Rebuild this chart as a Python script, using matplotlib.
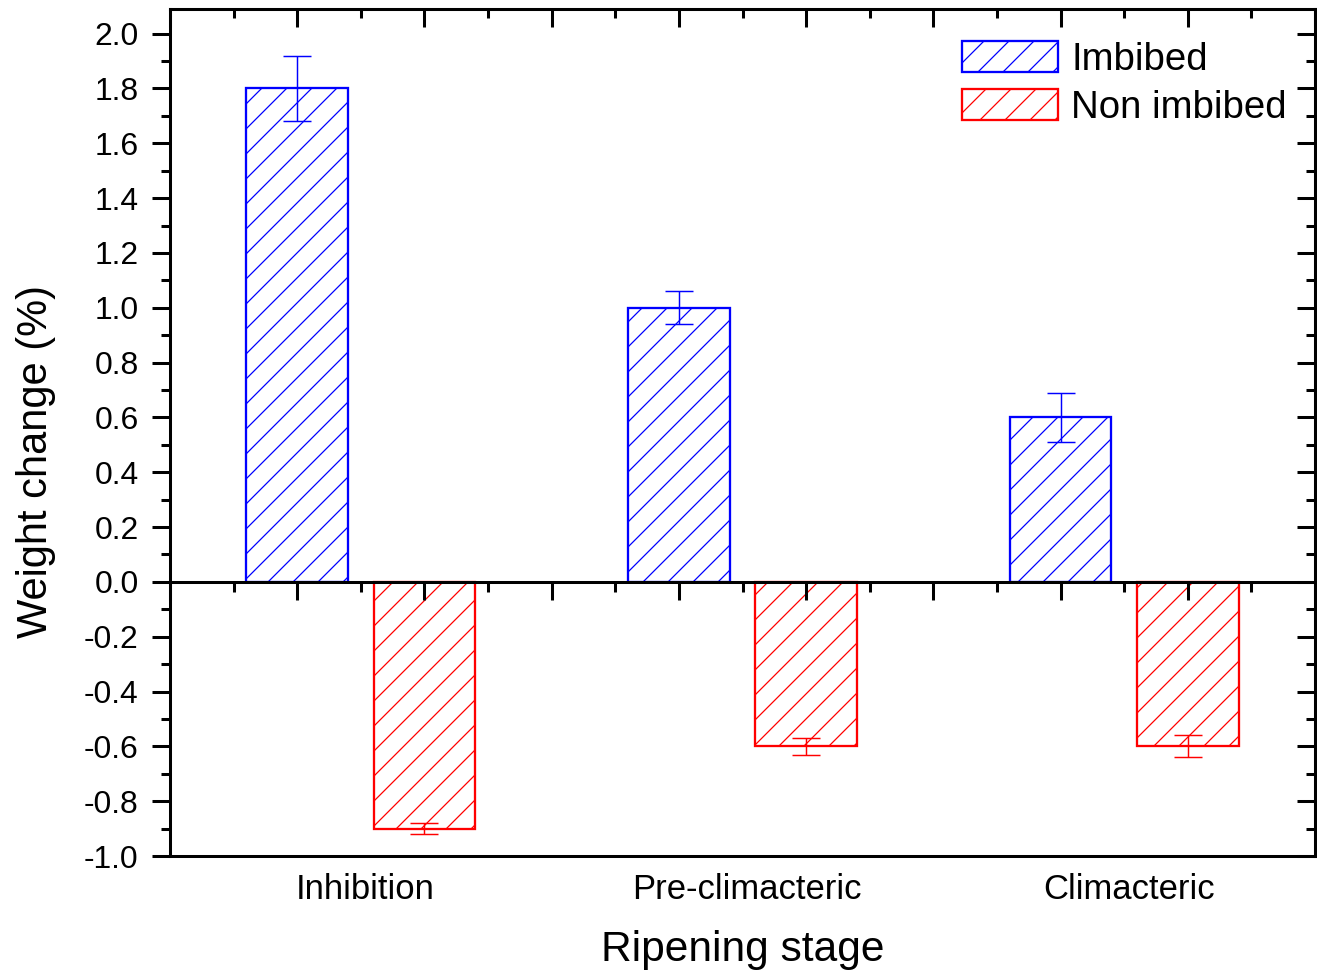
import numpy as np
import matplotlib
matplotlib.use('Agg')
import matplotlib.pyplot as plt
from matplotlib.ticker import MultipleLocator

plt.rcParams['font.family'] = ['Liberation Sans', 'DejaVu Sans']
plt.rcParams['hatch.linewidth'] = 0.6

# weight change per ripening stage (%)
stages = ['Inhibition', 'Pre-climacteric', 'Climacteric']
imbibed = [1.8, 1.0, 0.6]
imbibed_err = [0.12, 0.06, 0.09]
non_imbibed = [-0.9, -0.6, -0.6]
non_imbibed_err = [0.02, 0.03, 0.04]

centers = np.arange(len(stages)) * 3 + 1.5
x_imb = centers - 0.5
x_non = centers + 0.5
width = 0.8

fig = plt.figure(figsize=(1317 / 150, 973 / 150), dpi=150)
ax = fig.add_axes([170 / 1317, 1 - 856 / 973, 1145 / 1317, 847 / 973])

ax.bar(x_imb, imbibed, width, facecolor='none', edgecolor='blue', hatch='//',
       linewidth=1.1, label='Imbibed')
ax.bar(x_non, non_imbibed, width, facecolor='none', edgecolor='red', hatch='//',
       linewidth=1.1, label='Non imbibed')
ax.errorbar(x_imb, imbibed, yerr=imbibed_err, fmt='none', ecolor='blue',
            elinewidth=0.7, capsize=6.5, capthick=0.7)
ax.errorbar(x_non, non_imbibed, yerr=non_imbibed_err, fmt='none', ecolor='red',
            elinewidth=0.7, capsize=6.5, capthick=0.7)

ax.set_xlim(0, 9)
ax.set_ylim(-1.0, 2.09)

lw = 1.45
for s in ax.spines.values():
    s.set_linewidth(lw)
ax.spines['bottom'].set_position(('data', 0))

# x ticks on the zero line, pointing down
ax.xaxis.set_major_locator(MultipleLocator(1))
ax.xaxis.set_minor_locator(MultipleLocator(0.5))
ax.tick_params(axis='x', which='both', direction='out', labelbottom=False,
               top=False, width=lw)
ax.tick_params(axis='x', which='major', length=8.6)
ax.tick_params(axis='x', which='minor', length=5)

# y ticks on the left, outward
ax.yaxis.set_major_locator(MultipleLocator(0.2))
ax.yaxis.set_minor_locator(MultipleLocator(0.1))
ax.yaxis.set_major_formatter(matplotlib.ticker.FormatStrFormatter('%.1f'))
ax.tick_params(axis='y', which='both', direction='out', right=False, width=lw,
               labelsize=15.3, pad=6.5)
ax.tick_params(axis='y', which='major', length=8.6)
ax.tick_params(axis='y', which='minor', length=4.3)

# top ticks pointing in
top = ax.secondary_xaxis('top')
top.xaxis.set_major_locator(MultipleLocator(1))
top.xaxis.set_minor_locator(MultipleLocator(0.5))
top.tick_params(which='both', direction='in', labeltop=False, width=lw)
top.tick_params(which='major', length=8.6)
top.tick_params(which='minor', length=4.3)
top.spines['top'].set_linewidth(lw)

# right ticks pointing in
right = ax.secondary_yaxis('right')
right.yaxis.set_major_locator(MultipleLocator(0.2))
right.yaxis.set_minor_locator(MultipleLocator(0.1))
right.tick_params(which='both', direction='in', labelright=False, width=lw)
right.tick_params(which='major', length=8.6)
right.tick_params(which='minor', length=4.3)
right.spines['right'].set_linewidth(lw)

# bottom frame carries the stage names
bottom = ax.secondary_xaxis('bottom')
bottom.set_xticks(centers + 0.035, stages)
bottom.tick_params(length=0, pad=8, labelsize=16.6)
bottom.spines['bottom'].set_linewidth(lw)
bottom.set_xlabel('Ripening stage', fontsize=20.4, labelpad=11.8)

ax.set_ylabel('Weight change (%)', fontsize=20)
ax.yaxis.set_label_coords(-0.0995, 0.466)

ax.legend(loc='upper left', bbox_to_anchor=(0.692, 0.962), frameon=False,
          fontsize=18.4, handlelength=2.5, handleheight=0.86,
          handletextpad=0.34, labelspacing=0.3, borderpad=0, borderaxespad=0)

fig.savefig('out.png', dpi=150)
